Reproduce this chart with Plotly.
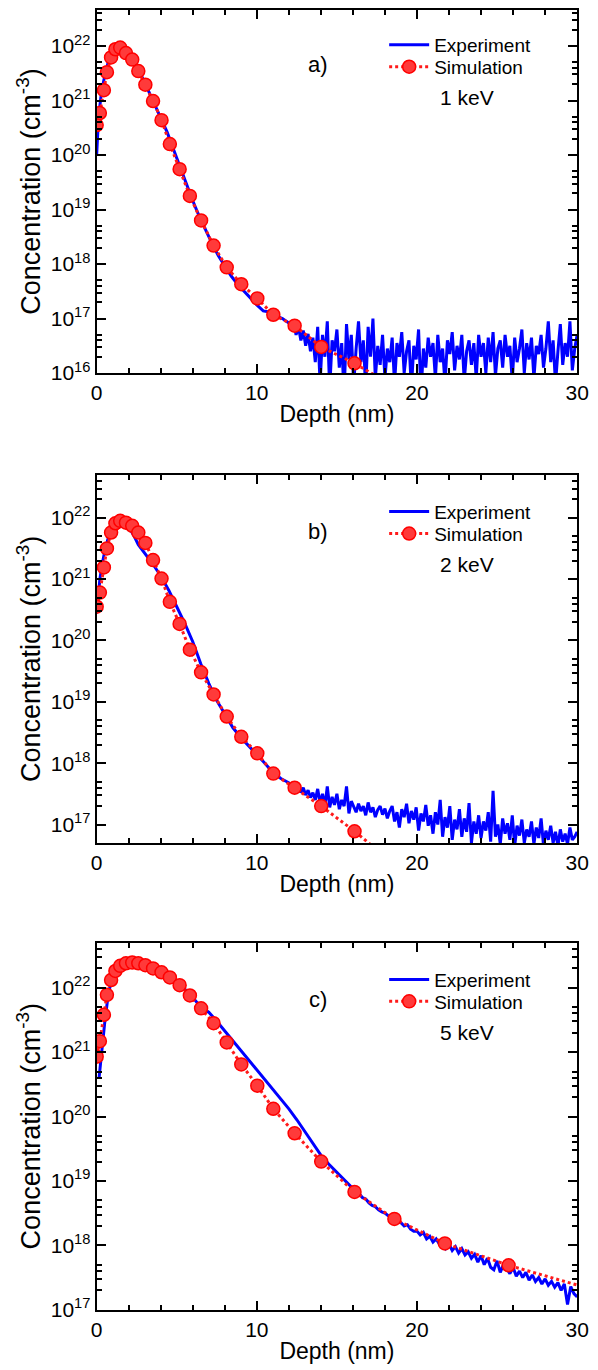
import numpy as np
import plotly.graph_objects as go

# ---------------- data (log10 of concentration in cm^-3) ----------------
sim_depth = [0, 0.2, 0.45, 0.64, 0.9, 1.17, 1.47, 1.83, 2.22, 2.6, 3.04, 3.52,
             4.05, 4.57, 5.18, 5.82, 6.52, 7.3, 8.12, 9.03, 10.03, 11.03, 12.36,
             14.02, 16.1, 18.59, 21.74, 25.72, 30.75]

sim_a = [20.55, 20.77, 21.19, 21.52, 21.79, 21.94, 21.97, 21.87, 21.75, 21.54,
         21.29, 20.99, 20.64, 20.20, 19.74, 19.25, 18.80, 18.34, 17.94, 17.63,
         17.37, 17.07, 16.87, 16.48, 16.18, 15.75, 15.3, 14.8, 14.3]
sim_b = [20.55, 20.78, 21.19, 21.50, 21.76, 21.91, 21.95, 21.92, 21.87, 21.76,
         21.59, 21.31, 21.01, 20.63, 20.27, 19.85, 19.48, 19.12, 18.76, 18.43,
         18.16, 17.83, 17.60, 17.30, 16.89, 16.35, 15.8, 15.2, 14.6]
sim_c = [20.93, 21.17, 21.58, 21.89, 22.12, 22.26, 22.34, 22.38, 22.39, 22.38,
         22.35, 22.30, 22.24, 22.16, 22.04, 21.88, 21.68, 21.45, 21.15, 20.81,
         20.48, 20.12, 19.74, 19.30, 18.83, 18.41, 18.03, 17.69, 17.33]

# Experiment, panel a (smooth rise/fall, then noisy floor from 12 nm)
exp_a_depth_head = [0, 0.1, 0.2, 0.3, 0.5, 0.7, 1.0, 1.3, 1.6, 2.0, 2.4, 2.8,
                    3.2, 3.6, 4.0, 4.4, 4.8, 5.2, 5.6, 6.0, 6.4, 6.8, 7.2, 7.6,
                    8.0, 8.4, 8.8, 9.2, 9.6, 10.0, 10.4, 10.8, 11.2, 11.6]
exp_a_head = [20.0, 20.6, 20.9, 21.15, 21.45, 21.68, 21.87, 21.94, 21.95, 21.85,
              21.66, 21.45, 21.2, 20.95, 20.7, 20.42, 20.1, 19.78, 19.46, 19.16,
              18.88, 18.62, 18.38, 18.15, 17.96, 17.78, 17.63, 17.5, 17.38, 17.25,
              17.14, 17.12, 17.05, 17.0]
exp_a_tail = [16.92, 16.80, 16.95, 16.70, 16.85, 16.60, 16.78, 16.50, 16.72, 16.40,
              16.65, 16.20, 16.85, 15.80, 16.70, 16.30, 16.95, 15.70, 16.60, 16.40,
              16.80, 16.10, 16.55, 15.60, 16.90, 16.25, 16.70, 15.80, 16.45, 16.95,
              16.20, 16.60, 15.70, 16.85, 16.30, 17.00, 15.90, 16.50, 16.15, 16.70,
              15.90, 16.45, 16.20, 16.65, 15.80, 16.55, 16.30, 16.75, 16.00, 16.40,
              16.60, 15.70, 16.50, 16.25, 16.80, 15.60, 16.45, 16.10, 16.65, 16.30,
              16.55, 15.90, 16.70, 16.20, 16.45, 15.80, 16.60, 16.35, 16.75, 16.05,
              16.50, 16.25, 16.70, 15.85, 16.40, 16.60, 16.15, 16.55, 15.90, 16.70,
              16.30, 16.55, 16.00, 16.65, 16.20, 16.75, 15.95, 16.45, 16.60, 16.10,
              16.70, 16.30, 16.50, 15.85, 16.65, 16.20, 16.45, 16.80, 16.00, 16.55,
              16.25, 16.65, 15.90, 16.50, 16.35, 16.70, 16.10, 16.45, 16.95, 16.20,
              16.60, 15.80, 16.40, 16.90, 16.15, 16.55, 16.30, 16.95, 16.05, 16.45,
              16.70]

# Experiment, panel b
exp_b_depth_head = [0, 0.1, 0.2, 0.35, 0.5, 0.7, 1.0, 1.3, 1.6, 2.0, 2.3, 2.6,
                    3.0, 3.5, 4.0, 4.5, 5.0, 5.5, 6.0, 6.5, 7.0, 7.5, 8.0, 8.5,
                    9.0, 9.5, 10.0, 10.5, 11.0, 11.5]
exp_b_head = [20.44, 20.75, 21.0, 21.25, 21.45, 21.65, 21.82, 21.92, 21.93, 21.85,
              21.72, 21.56, 21.42, 21.25, 21.05, 20.82, 20.55, 20.28, 19.98, 19.62,
              19.3, 19.02, 18.8, 18.58, 18.42, 18.28, 18.15, 18.0, 17.85, 17.75]
exp_b_tail = [17.68, 17.62, 17.70, 17.58, 17.64, 17.52, 17.60, 17.48, 17.56, 17.44,
              17.52, 17.40, 17.58, 17.35, 17.50, 17.30, 17.62, 17.28, 17.45, 17.32,
              17.50, 17.25, 17.40, 17.30, 17.62, 17.18, 17.38, 17.28, 17.20, 17.34,
              17.22, 17.30, 17.15, 17.36, 17.20, 17.28, 17.12, 17.24, 17.30, 17.16,
              17.26, 17.10, 17.22, 17.30, 17.05, 17.20, 16.95, 17.25, 17.12, 17.34,
              17.02, 17.22, 17.08, 17.28, 16.90, 17.18, 17.05, 17.32, 16.98, 17.15,
              16.85, 17.20, 17.00, 17.40, 16.80, 17.12, 16.95, 17.30, 16.75, 17.08,
              16.92, 17.25, 16.80, 17.10, 16.88, 17.35, 16.70, 17.05, 16.85, 17.15,
              16.78, 17.05, 16.90, 17.20, 16.72, 17.55, 16.80, 17.00, 16.68, 17.10,
              16.85, 17.02, 16.75, 17.15, 16.65, 16.98, 16.82, 17.08, 16.70, 16.92,
              16.80, 17.05, 16.68, 16.95, 16.78, 17.10, 16.66, 16.90, 16.75, 16.98,
              16.70, 16.88, 16.65, 16.92, 16.72, 16.85, 16.68, 16.95, 16.75, 16.80,
              16.88]

# Experiment, panel c
exp_c_depth_head = [0.15, 0.3, 0.5, 0.7, 0.9, 1.2, 1.5, 2.0, 2.5, 3.0, 3.5, 4.0,
                    4.5, 5.0, 5.5, 6.0, 6.5, 7.0, 7.5, 8.0, 8.5, 9.0, 9.5, 10.0,
                    10.5, 11.0, 11.5, 12.0, 12.5, 13.0, 13.5, 14.0, 14.5, 15.0, 15.5]
exp_c_head = [20.6, 21.0, 21.45, 21.85, 22.1, 22.25, 22.33, 22.38, 22.38, 22.35,
              22.31, 22.25, 22.18, 22.1, 21.98, 21.85, 21.7, 21.62, 21.48, 21.33,
              21.18, 21.03, 20.88, 20.73, 20.58, 20.43, 20.28, 20.12, 19.95, 19.77,
              19.58, 19.40, 19.26, 19.13, 19.0]
exp_c_tail = [18.88, 18.84, 18.80, 18.74, 18.72, 18.66, 18.62, 18.60, 18.55, 18.52,
              18.50, 18.46, 18.44, 18.40, 18.38, 18.35, 18.30, 18.32, 18.25, 18.22,
              18.22, 18.16, 18.20, 18.10, 18.14, 18.05, 18.10, 18.02, 18.04, 17.95,
              18.02, 17.92, 17.98, 17.88, 17.95, 17.85, 17.90, 17.80, 17.86, 17.74,
              17.84, 17.70, 17.80, 17.66, 17.62, 17.76, 17.58, 17.70, 17.64, 17.56,
              17.66, 17.52, 17.60, 17.50, 17.58, 17.46, 17.54, 17.44, 17.50, 17.40,
              17.48, 17.38, 17.44, 17.35, 17.42, 17.30, 17.40, 17.08, 17.36, 17.25,
              17.20]

panel_labels = ["a)", "b)", "c)"]
energies = ["1 keV", "2 keV", "5 keV"]
series_names = ["Experiment", "Simulation"]
x_ticks = [0, 10, 20, 30]

# ---------------- assemble ----------------
exp_depths = [
    exp_a_depth_head + list(np.linspace(12.0, 30.0, len(exp_a_tail))),
    exp_b_depth_head + list(np.linspace(12.0, 30.0, len(exp_b_tail))),
    exp_c_depth_head + list(np.linspace(16.0, 30.0, len(exp_c_tail))),
]
exp_vals = [exp_a_head + exp_a_tail, exp_b_head + exp_b_tail, exp_c_head + exp_c_tail]
sim_vals = [sim_a, sim_b, sim_c]
y_log_ranges = [(16, 22.66), (16.7, 22.7), (17, 22.7)]

W, H = 598, 1370
# empirical page -> screenshot mapping (screen = O + S * figure)
SX, OX = 0.975, 11.9
SY, OY = 0.993, 7.0


def px(sx):
    return min(1.0, max(0.0, (sx - OX) / SX / W))


def py(sy):
    return min(1.0, max(0.0, 1 - (sy - OY) / SY / H))


x0, x1 = 95, 578
panel_px = [(5, 371), (473, 842), (942, 1310)]  # top, bottom in screen pixels

FONT = "Liberation Sans, Arial, Helvetica, sans-serif"
BLUE = "#0000ff"
RED = "#ff1a1a"

fig = go.Figure()
layout = dict(
    width=W, height=H, margin=dict(l=0, r=0, t=0, b=0),
    paper_bgcolor="white", plot_bgcolor="white",
    font=dict(family=FONT, color="black", size=18),
    showlegend=True,
)
annotations = []

for i in range(3):
    sfx = "" if i == 0 else str(i + 1)
    xa, ya = "x" + sfx, "y" + sfx
    lg_exp = "legend" if i == 0 else "legend%d" % (2 * i + 1)
    lg_sim = "legend%d" % (2 * i + 2)
    top, bot = panel_px[i]

    fig.add_trace(go.Scatter(
        x=exp_depths[i], y=[10 ** v for v in exp_vals[i]], mode="lines",
        line=dict(color=BLUE, width=3), name=series_names[0],
        xaxis=xa, yaxis=ya, legend=lg_exp))
    fig.add_trace(go.Scatter(
        x=sim_depth, y=[10 ** v for v in sim_vals[i]], mode="lines+markers",
        line=dict(color=RED, width=3, dash="dot"),
        marker=dict(color="#ff3a3a", size=13, line=dict(color="#ff0000", width=1.5)),
        name=series_names[1], xaxis=xa, yaxis=ya, legend=lg_sim))

    ylo, yhi = y_log_ranges[i]
    majors = [10.0 ** k for k in range(int(np.ceil(ylo)), int(np.floor(yhi)) + 1)]
    minors = [m * 10.0 ** k for k in range(int(np.floor(ylo)), int(np.ceil(yhi)) + 1)
              for m in (2, 3, 4, 5) if ylo <= np.log10(m * 10.0 ** k) <= yhi]

    layout["xaxis" + sfx] = dict(
        domain=[px(x0), px(x1)], anchor=ya, range=[0, 30],
        tickmode="array", tickvals=x_ticks, ticktext=[str(t) for t in x_ticks],
        ticks="inside", ticklen=9, tickwidth=1.5, tickcolor="black",
        minor=dict(ticks="inside", ticklen=5, tickwidth=1.5, tickcolor="black",
                   tickmode="linear", tick0=0, dtick=2, showgrid=False),
        showline=True, linecolor="black", linewidth=2, mirror="ticks",
        showgrid=False, zeroline=False,
        tickfont=dict(size=21, family=FONT),
        title=dict(text="Depth (nm)", font=dict(size=23, family=FONT), standoff=3),
    )
    layout["yaxis" + sfx] = dict(
        domain=[py(bot), py(top)], anchor=xa, type="log", range=[ylo, yhi],
        tickmode="array", tickvals=majors,
        ticktext=["10<sup>%d</sup>" % round(np.log10(v)) for v in majors],
        ticks="inside", ticklen=9, tickwidth=1.5, tickcolor="black",
        minor=dict(ticks="inside", ticklen=5, tickwidth=1.5, tickcolor="black",
                   tickmode="array", tickvals=minors, showgrid=False),
        showline=True, linecolor="black", linewidth=2, mirror="ticks",
        showgrid=False, zeroline=False,
        tickfont=dict(size=21, family=FONT),
        title=dict(text="Concentration (cm<sup>-3</sup>)", font=dict(size=27, family=FONT),
                   standoff=2),
    )
    for lg, dy in ((lg_exp, 37), (lg_sim, 59)):
        layout[lg] = dict(
            x=px(384), y=py(top + dy), xanchor="left", yanchor="middle",
            bgcolor="rgba(0,0,0,0)", borderwidth=0, font=dict(size=19, family=FONT),
            tracegroupgap=0, itemwidth=40,
        )
    annotations.append(dict(
        text=panel_labels[i], x=px(317), y=py(top + 57), xref="paper", yref="paper",
        showarrow=False, font=dict(size=22, family=FONT), xanchor="center", yanchor="middle"))
    annotations.append(dict(
        text=energies[i], x=px(467), y=py(top + 90), xref="paper", yref="paper",
        showarrow=False, font=dict(size=21, family=FONT), xanchor="center", yanchor="middle"))

layout["annotations"] = annotations
fig.update_layout(**layout)
fig.write_html("out.html")
